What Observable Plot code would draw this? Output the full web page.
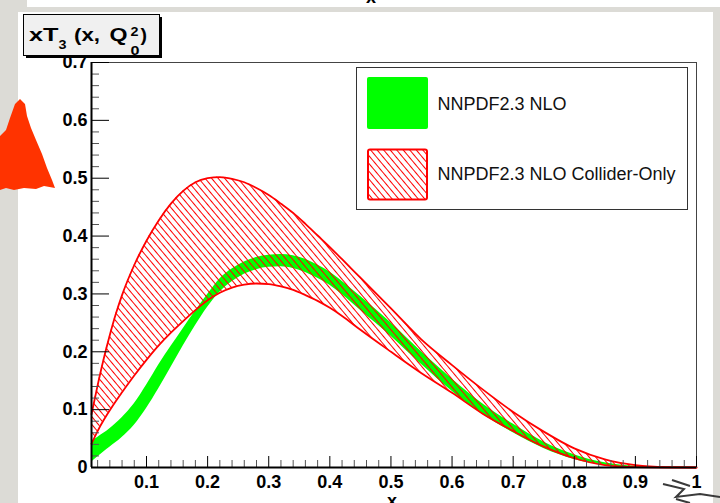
<!DOCTYPE html>
<html><head><meta charset="utf-8">
<script src="https://cdn.jsdelivr.net/npm/d3@7"></script>
<script src="https://cdn.jsdelivr.net/npm/@observablehq/plot@0.6"></script>
<style>
html,body{margin:0;padding:0;}
body{width:720px;height:503px;overflow:hidden;position:relative;background:#dcdbd6;font-family:"Liberation Sans",Arial,Helvetica,sans-serif;}
#canvas{position:absolute;left:18px;top:12px;width:695px;height:495px;background:#fff;}
#topstrip{position:absolute;left:27px;top:0;width:693px;height:7px;background:#fff;}
#chart{position:absolute;left:0;top:0;width:720px;height:503px;}
#overlay{position:absolute;left:0;top:0;}
</style>
</head>
<body>
<div id="topstrip"></div>
<div id="canvas"></div>
<div id="chart"></div>
<svg id="overlay" width="720" height="503" viewBox="0 0 720 503" font-family="Liberation Sans, Arial, Helvetica, sans-serif">
  <defs>
    <pattern id="hatch" patternUnits="userSpaceOnUse" width="5" height="5" patternTransform="rotate(-40)">
      <path d="M2.5,-1V6" stroke="#ff0000" stroke-width="1" fill="none"/>
    </pattern>
  </defs>
  <!-- decorative scribbles from the photographed page -->
  <path d="M0,136 L6,130 L10,118 L15,104 L20,99 L25,104 L27,116 L31,128 L36,140 L42,154 L47,168 L52,180 L55,188 L44,186 L36,189 L24,188 L14,190 L6,188 L0,190 Z" fill="#ff3300"/>
  <path d="M663,484 L684,489 L676,497 L700,494 L720,497 M672,480 L690,486 M676,499 L690,503" stroke="#3a3a3a" stroke-width="2" fill="none"/>
  <text x="371" y="3" font-size="18" font-weight="bold" text-anchor="middle">x</text>
  <!-- title box -->
  <rect x="26" y="17" width="136" height="41" fill="#000"/>
  <rect x="23.5" y="14.5" width="136" height="41" fill="#f0f0f0" stroke="#000" stroke-width="1"/>
  <g id="titletext" font-weight="bold" fill="#000"></g>
  <!-- legend -->
  <rect x="356.5" y="67.5" width="331" height="142" fill="#fff" stroke="#333" stroke-width="1"/>
  <g id="legendg"></g>
  <text id="xlabel" x="392" y="506.5" font-size="18" font-weight="bold" text-anchor="middle"></text>
</svg>
<script>
// ---- data ----
const xs = [0.01,0.02,0.03,0.04,0.05,0.06,0.08,0.10,0.12,0.14,0.16,0.18,0.20,0.22,0.24,0.26,0.28,0.30,0.32,0.34,0.36,0.38,0.40,0.42,0.45,0.50,0.55,0.60,0.65,0.70,0.75,0.80,0.85,0.90,0.95,1.00];
// NNPDF2.3 NLO band (green)
const nloLow  = [0.009,0.018,0.027,0.035,0.043,0.052,0.073,0.102,0.136,0.173,0.210,0.245,0.277,0.303,0.321,0.334,0.342,0.346,0.347,0.344,0.337,0.327,0.315,0.299,0.272,0.227,0.178,0.132,0.092,0.060,0.033,0.014,0.004,0.0005,0,0];
const nloHigh = [0.045,0.052,0.059,0.067,0.076,0.086,0.110,0.142,0.177,0.209,0.240,0.270,0.299,0.326,0.343,0.355,0.363,0.367,0.368,0.366,0.360,0.350,0.338,0.322,0.296,0.250,0.200,0.153,0.110,0.075,0.044,0.022,0.008,0.002,0.0003,0];
// NNPDF2.3 NLO Collider-Only band (red hatched)
const colLow  = [0.041,0.063,0.082,0.099,0.115,0.130,0.159,0.186,0.211,0.233,0.253,0.272,0.289,0.302,0.311,0.316,0.318,0.317,0.313,0.307,0.298,0.288,0.276,0.262,0.238,0.200,0.163,0.129,0.093,0.063,0.036,0.016,0.004,0.0005,0,0];
const colHigh = [0.092,0.142,0.188,0.229,0.266,0.298,0.350,0.392,0.427,0.456,0.478,0.493,0.500,0.502,0.499,0.493,0.483,0.471,0.456,0.440,0.421,0.401,0.381,0.360,0.328,0.275,0.221,0.177,0.135,0.096,0.062,0.033,0.014,0.004,0.0005,0];
const xMajor = [0.1,0.2,0.3,0.4,0.5,0.6,0.7,0.8,0.9,1];
const xMinor = [0.02,0.04,0.06,0.08,0.12,0.14,0.16,0.18,0.22,0.24,0.26,0.28,0.32,0.34,0.36,0.38,0.42,0.44,0.46,0.48,0.52,0.54,0.56,0.58,0.62,0.64,0.66,0.68,0.72,0.74,0.76,0.78,0.82,0.84,0.86,0.88,0.92,0.94,0.96,0.98];
const yMajor = [0,0.1,0.2,0.3,0.4,0.5,0.6,0.7];
const yMinor = [0.02,0.04,0.06,0.08,0.12,0.14,0.16,0.18,0.22,0.24,0.26,0.28,0.32,0.34,0.36,0.38,0.42,0.44,0.46,0.48,0.52,0.54,0.56,0.58,0.62,0.64,0.66,0.68];
const xDomain = [0.01, 1];
const yDomain = [0, 0.7];
const legendLabels = ["NNPDF2.3 NLO", "NNPDF2.3 NLO Collider-Only"];
const xTitle = "x";

const rows = xs.map((x, i) => ({x, nloLow: nloLow[i], nloHigh: nloHigh[i], colLow: colLow[i], colHigh: colHigh[i]}));

const W = 720, H = 503, mL = 91, mR = 24, mT = 62, mB = 36;
const pw = W - mL - mR, ph = H - mT - mB;

const chart = Plot.plot({
  width: W, height: H,
  marginLeft: mL, marginRight: mR, marginTop: mT, marginBottom: mB,
  x: {domain: xDomain},
  y: {domain: yDomain},
  style: {background: "transparent", fontFamily: "Liberation Sans, Arial, Helvetica, sans-serif", overflow: "visible"},
  marks: [
    Plot.areaY(rows, {x: "x", y1: "nloLow", y2: "nloHigh", fill: "#00ff00", curve: "monotone-x"}),
    Plot.areaY(rows, {x: "x", y1: "colLow", y2: "colHigh", fill: "url(#hatch)", curve: "monotone-x"}),
    Plot.lineY(rows, {x: "x", y: "colHigh", stroke: "#ff0000", strokeWidth: 1.8, curve: "monotone-x"}),
    Plot.lineY(rows, {x: "x", y: "colLow", stroke: "#ff0000", strokeWidth: 1.8, curve: "monotone-x"}),
    Plot.frame({stroke: "#444", strokeWidth: 1}),
    Plot.tickX(xMinor, {x: d => d, insetTop: ph - 7, stroke: "#555"}),
    Plot.tickX(xMajor, {x: d => d, insetTop: ph - 11, stroke: "#000"}),
    Plot.tickY(yMinor, {y: d => d, insetRight: pw - 8, stroke: "#555"}),
    Plot.tickY(yMajor, {y: d => d, insetRight: pw - 18, stroke: "#000"}),
    Plot.ruleY([yDomain[0]], {stroke: "#000", strokeWidth: 2}),
    Plot.ruleX([xDomain[0]], {stroke: "#000", strokeWidth: 2}),
    Plot.axisX({ticks: xMajor, tickSize: 0, tickPadding: 8, tickFormat: d => String(d), fontSize: 18, fontWeight: "bold", label: null}),
    Plot.axisY({ticks: yMajor, tickSize: 0, tickPadding: 4, tickFormat: d => String(d), fontSize: 18, fontWeight: "bold", label: null})
  ]
});
document.getElementById("chart").appendChild(chart);

// title: xT_3 (x, Q^2_0)
const ns = "http://www.w3.org/2000/svg";
function addText(parent, str, x, y, size, len, extra) {
  const t = document.createElementNS(ns, "text");
  t.setAttribute("x", x); t.setAttribute("y", y);
  t.setAttribute("font-size", size);
  if (len) { t.setAttribute("textLength", len); t.setAttribute("lengthAdjust", "spacingAndGlyphs"); }
  if (extra) for (const k in extra) t.setAttribute(k, extra[k]);
  t.textContent = str;
  parent.appendChild(t);
  return t;
}
const tg = document.getElementById("titletext");
addText(tg, "xT", 29, 40.7, 19, 29.5);
addText(tg, "3", 58.5, 48.5, 13, 8);
addText(tg, "(x,", 74, 40.7, 19, 26);
addText(tg, "Q", 109.5, 40.7, 19, 18);
addText(tg, "2", 130.5, 36, 13, 8);
addText(tg, "0", 130.5, 54.5, 13, 9);
addText(tg, ")", 140.5, 40.7, 19, 6.5);

// legend
const lg = document.getElementById("legendg");
const r1 = document.createElementNS(ns, "rect");
r1.setAttribute("x", 367); r1.setAttribute("y", 77); r1.setAttribute("width", 61); r1.setAttribute("height", 52);
r1.setAttribute("rx", 2); r1.setAttribute("fill", "#00ff00");
lg.appendChild(r1);
const r2 = document.createElementNS(ns, "rect");
r2.setAttribute("x", 368); r2.setAttribute("y", 149.5); r2.setAttribute("width", 59); r2.setAttribute("height", 50);
r2.setAttribute("rx", 2); r2.setAttribute("fill", "url(#hatch)"); r2.setAttribute("stroke", "#ff0000"); r2.setAttribute("stroke-width", 2);
lg.appendChild(r2);
addText(lg, legendLabels[0], 437.5, 110, 18, null, {fill: "#111"});
addText(lg, legendLabels[1], 437.5, 180, 18, null, {fill: "#111"});
document.getElementById("xlabel").textContent = xTitle;
</script>
</body></html>
